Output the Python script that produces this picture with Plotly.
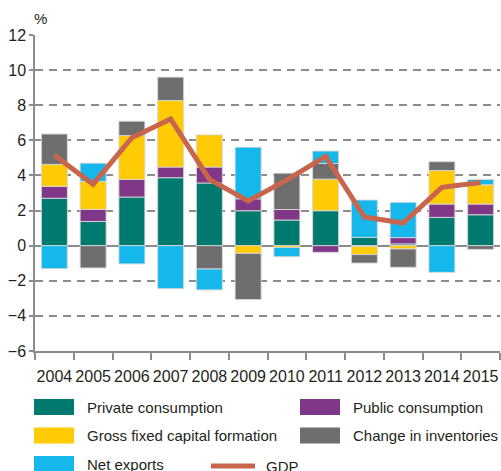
import plotly.graph_objects as go

years = ["2004", "2005", "2006", "2007", "2008", "2009", "2010", "2011", "2012", "2013", "2014", "2015"]
private_consumption = [2.7, 1.38, 2.77, 3.87, 3.57, 1.99, 1.46, 1.99, 0.47, 0.1, 1.61, 1.76]
public_consumption = [0.68, 0.69, 1.0, 0.61, 0.91, 0.68, 0.6, -0.38, -0.05, 0.36, 0.76, 0.61]
gross_fixed_capital = [1.25, 1.59, 2.5, 3.79, 1.83, -0.44, -0.1, 1.8, -0.46, -0.19, 1.91, 1.1]
change_inventories = [1.73, -1.27, 0.82, 1.33, -1.33, -2.63, 2.07, 0.89, -0.48, -1.04, 0.5, -0.21]
net_exports = [-1.31, 1.04, -1.04, -2.45, -1.19, 2.94, -0.53, 0.71, 2.13, 2.01, -1.52, 0.3]
gdp = [5.15, 3.5, 6.15, 7.22, 3.78, 2.55, 3.75, 5.08, 1.63, 1.29, 3.32, 3.6]

y_ticks = [-6, -4, -2, 0, 2, 4, 6, 8, 10, 12]

series = [
    ("Private consumption", private_consumption, "#007a6f"),
    ("Public consumption", public_consumption, "#813788"),
    ("Gross fixed capital formation", gross_fixed_capital, "#ffcb05"),
    ("Change in inventories", change_inventories, "#6f6e6e"),
    ("Net exports", net_exports, "#16b8ec"),
]
GDP_COLOR = "#c9654d"
FONT = "Liberation Sans, Arial, sans-serif"
TXT = "#231f20"

fig = go.Figure()
for name, vals, col in series:
    fig.add_trace(go.Bar(x=years, y=vals, name=name, marker=dict(color=col, line=dict(color="rgba(215,215,215,0.9)", width=1))))
fig.add_trace(go.Scatter(x=years, y=gdp, name="GDP", mode="lines", line=dict(color=GDP_COLOR, width=5)))

W, H = 501, 471
L, R, T, B = 35, 1, 35, 120
pw, ph = W - L - R, H - T - B


def pxx(x):
    return (x - L) / pw


def pxy(y):
    return (H - B - y) / ph


shapes = []
annotations = []
legend_items = [
    ("Private consumption", "#007a6f", 34, 407),
    ("Gross fixed capital formation", "#ffcb05", 34, 435.5),
    ("Net exports", "#16b8ec", 34, 464),
    ("Public consumption", "#813788", 300, 407),
    ("Change in inventories", "#6f6e6e", 300, 435.5),
]
for name, col, x0, yc in legend_items:
    shapes.append(dict(type="rect", xref="paper", yref="paper", x0=pxx(x0), x1=pxx(x0 + 40),
                       y0=pxy(yc + 8), y1=pxy(yc - 8), fillcolor=col, line=dict(width=0)))
    annotations.append(dict(text=name, xref="paper", yref="paper", x=pxx(x0 + 51), y=pxy(yc),
                            xanchor="left", yanchor="middle", showarrow=False,
                            font=dict(size=15, family=FONT, color=TXT)))
shapes.append(dict(type="line", xref="paper", yref="paper", x0=pxx(211), x1=pxx(255),
                   y0=pxy(466), y1=pxy(466), line=dict(color=GDP_COLOR, width=5)))
annotations.append(dict(text="GDP", xref="paper", yref="paper", x=pxx(264), y=pxy(466),
                        xanchor="left", yanchor="middle", showarrow=False,
                        font=dict(size=15, family=FONT, color=TXT)))
annotations.append(dict(text="%", xref="paper", yref="paper", x=pxx(32), y=1, yshift=6,
                        xanchor="left", yanchor="bottom", showarrow=False,
                        font=dict(size=15, family=FONT, color=TXT)))

fig.update_layout(
    width=W, height=H,
    margin=dict(l=L, r=R, t=T, b=B, pad=0, autoexpand=False),
    barmode="relative", bargap=0.33,
    plot_bgcolor="white", paper_bgcolor="white",
    showlegend=False,
    font=dict(family=FONT, size=16, color=TXT),
    shapes=shapes, annotations=annotations,
    xaxis=dict(type="category", showline=True, linecolor="#8c8c8c", linewidth=1.5,
               ticks="outside", tickson="boundaries", ticklen=7, tickcolor="#8c8c8c", tickwidth=1.5,
               ticklabelstandoff=10,
               showgrid=False, tickfont=dict(size=16), tickangle=0, automargin=False, fixedrange=True),
    yaxis=dict(range=[-6, 12], tickvals=y_ticks, showline=True, linecolor="#8c8c8c", linewidth=1.5,
               ticks="outside", ticklen=4, tickcolor="#8c8c8c", tickwidth=1.5,
               showgrid=True, gridcolor="#8c8c8c", gridwidth=1.5, griddash="8px,6px",
               zeroline=True, zerolinecolor="#8c8c8c", zerolinewidth=1.5,
               tickfont=dict(size=16), automargin=False, fixedrange=True),
)

fig.write_html("out.html", config={"displayModeBar": False},
               post_script="document.body.style.margin='0';document.body.style.padding='0';")
